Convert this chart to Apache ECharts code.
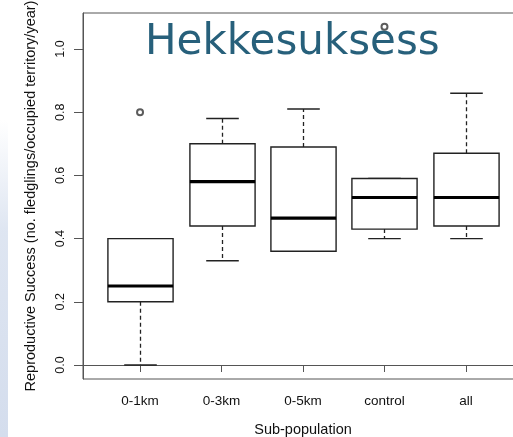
<!DOCTYPE html>
<html>
<head>
<meta charset="utf-8">
<script src="https://cdn.jsdelivr.net/npm/echarts@6/dist/echarts.min.js"></script>
<style>
  html, body { margin: 0; padding: 0; background: #ffffff; }
  #chart { width: 513px; height: 437px; }
</style>
</head>
<body>
<div id="chart"></div>
<script>
// ---- data ----
const categories = ['0-1km', '0-3km', '0-5km', 'control', 'all'];
const lowWhisker  = [0.00, 0.33, 0.36, 0.40, 0.40];
const lowerQuart  = [0.20, 0.44, 0.36, 0.43, 0.44];
const medians     = [0.25, 0.58, 0.465, 0.53, 0.53];
const upperQuart  = [0.40, 0.70, 0.69, 0.59, 0.67];
const highWhisker = [0.40, 0.78, 0.81, 0.59, 0.86];
const outlierCategories = ['0-1km', 'control'];
const outlierValues     = [0.80, 1.07];
const yTicks = [0.0, 0.2, 0.4, 0.6, 0.8, 1.0];
const titleText = 'Hekkesuksess';
const xAxisTitle = 'Sub-population';
const yAxisTitle = 'Reproductive Success (no. fledglings/occupied territory/year)';

// ---- build ----
const boxData = categories.map((c, i) => [i + 1, lowWhisker[i], lowerQuart[i], medians[i], upperQuart[i], highWhisker[i]]);
const outlierData = outlierCategories.map((c, i) => [categories.indexOf(c) + 1, outlierValues[i]]);
const xTickValues = categories.map((c, i) => i + 1);

const chart = echarts.init(document.getElementById('chart'), null, { renderer: 'canvas' });

const ink = '#222222';

function renderBox(params, api) {
  const x = api.value(0);
  const lo = api.value(1), q1 = api.value(2), md = api.value(3), q3 = api.value(4), hi = api.value(5);
  const halfW = api.size([0.4, 0])[0];
  const capW = api.size([0.2, 0])[0];
  const c = (v) => api.coord([x, v]);
  const pLo = c(lo), pQ1 = c(q1), pMd = c(md), pQ3 = c(q3), pHi = c(hi);
  const cx = Math.round(pMd[0]) + 0.5;
  const children = [];
  if (hi > q3) children.push({ type: 'line', shape: { x1: cx, y1: pQ3[1], x2: cx, y2: pHi[1] },
    style: { stroke: ink, lineWidth: 1.3, lineDash: [4, 3] } });
  if (lo < q1) children.push({ type: 'line', shape: { x1: cx, y1: pQ1[1], x2: cx, y2: pLo[1] },
    style: { stroke: ink, lineWidth: 1.3, lineDash: [4, 3] } });
  children.push({ type: 'line', shape: { x1: cx - capW, y1: pHi[1], x2: cx + capW, y2: pHi[1] },
    style: { stroke: ink, lineWidth: 1.4 } });
  children.push({ type: 'line', shape: { x1: cx - capW, y1: pLo[1], x2: cx + capW, y2: pLo[1] },
    style: { stroke: ink, lineWidth: 1.4 } });
  children.push({ type: 'rect', shape: { x: cx - halfW, y: pQ3[1], width: 2 * halfW, height: pQ1[1] - pQ3[1] },
    style: { fill: '#ffffff', stroke: ink, lineWidth: 1.4 } });
  children.push({ type: 'line', shape: { x1: cx - halfW, y1: pMd[1], x2: cx + halfW, y2: pMd[1] },
    style: { stroke: '#000000', lineWidth: 3.2 } });
  return { type: 'group', children };
}

const option = {
  backgroundColor: '#ffffff',
  animation: false,
  graphic: [
    {
      type: 'rect', z: -10, silent: true,
      shape: { x: 0, y: 120, width: 8, height: 317 },
      style: {
        fill: new echarts.graphic.LinearGradient(0, 0, 0, 1, [
          { offset: 0, color: 'rgba(214,223,238,0)' },
          { offset: 0.35, color: 'rgba(214,223,238,0.8)' },
          { offset: 1, color: 'rgba(212,221,237,1)' }
        ])
      }
    },
    {
      type: 'text', z: 0, silent: true,
      x: 145, y: 43,
      style: {
        text: titleText,
        font: '42px "DejaVu Sans"',
        fill: '#27607b',
        textAlign: 'left',
        textVerticalAlign: 'middle'
      }
    }
  ],
  grid: {
    left: 83, top: 13, right: -10, bottom: 58,
    outerBoundsMode: 'none',
    containLabel: false,
    show: true, borderColor: '#555555', borderWidth: 1, backgroundColor: 'transparent'
  },
  xAxis: {
    type: 'value',
    min: 0.3, max: 5.7,
    name: xAxisTitle,
    nameLocation: 'middle',
    nameGap: 43,
    nameTextStyle: { fontFamily: 'Liberation Sans', fontSize: 14.5, color: '#111111' },
    axisLine: { show: true, lineStyle: { color: '#555555', width: 1 } },
    axisTick: { show: true, customValues: xTickValues, length: 7, lineStyle: { color: '#555555' } },
    axisLabel: {
      show: true, customValues: xTickValues, margin: 15,
      fontFamily: 'Liberation Sans', fontSize: 13.5, color: '#111111',
      formatter: (v) => categories[Math.round(v) - 1] || ''
    },
    splitLine: { show: false }
  },
  yAxis: {
    type: 'value',
    min: -0.0443, max: 1.1139,
    name: yAxisTitle,
    nameLocation: 'middle',
    nameRotate: 90,
    nameGap: 45,
    nameTextStyle: { fontFamily: 'Liberation Sans', fontSize: 14.5, color: '#111111' },
    axisLine: { show: true, lineStyle: { color: '#555555', width: 1 } },
    axisTick: { show: true, customValues: yTicks, length: 9, lineStyle: { color: '#555555' } },
    axisLabel: {
      show: true, customValues: yTicks, rotate: 90, margin: 16,
      fontFamily: 'Liberation Sans', fontSize: 12.5, color: '#111111',
      formatter: (v) => v.toFixed(1)
    },
    splitLine: { show: false }
  },
  series: [
    {
      type: 'custom',
      name: 'box',
      renderItem: renderBox,
      encode: { x: 0, y: [1, 2, 3, 4, 5] },
      data: boxData,
      z: 3
    },
    {
      type: 'scatter',
      name: 'outliers',
      data: outlierData,
      symbol: 'emptyCircle',
      symbolSize: 6,
      zlevel: 1,
      itemStyle: { color: '#333333', borderColor: '#333333', borderWidth: 1.3 },
      z: 10
    }
  ]
};

chart.setOption(option);
</script>
</body>
</html>
